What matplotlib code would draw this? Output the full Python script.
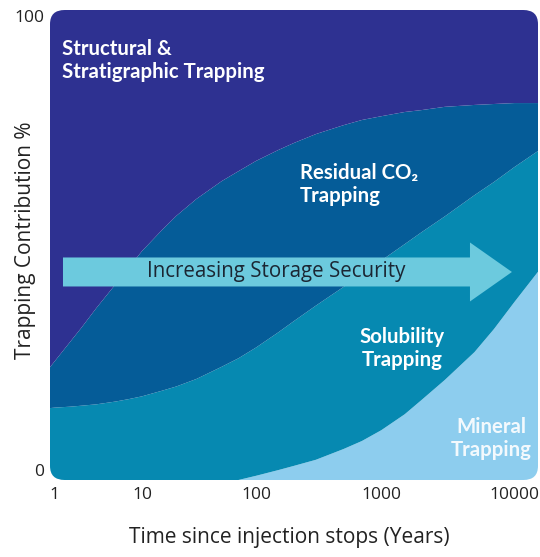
import numpy as np
import matplotlib
matplotlib.use('Agg')
import matplotlib.pyplot as plt
from matplotlib.patches import FancyBboxPatch, FancyArrow

plt.rcParams['font.family'] = ['Open Sans', 'DejaVu Sans']

# Time since injection stops (years) and each mechanism's share (%)
years = [0.88, 1, 1.5, 2, 3, 5, 7, 10, 15, 20, 30, 50, 70, 100, 150, 200, 300, 500,
         700, 1000, 1500, 2000, 3000, 5000, 7000, 10000, 15000]
mineral = [0, 0, 0, 0, 0, 0, 0, 0, 0, 0, 0, 0, 0, 0.9, 2.1, 3.0, 4.3, 6.6,
           8.3, 10.6, 14.0, 17.0, 21.3, 27.2, 32.1, 37.9, 44.3]
solubility = [15.3, 15.4, 15.6, 15.8, 16.1, 16.7, 17.2, 17.8, 19.0, 19.9, 21.5, 24.1, 25.9,
              27.3, 29.3, 30.8, 32.8, 34.5, 35.6, 36.1, 36.2, 35.7, 34.8, 33.4, 31.3, 28.7, 25.7]
residual = [8.7, 9.9, 13.8, 16.5, 20.5, 25.0, 27.9, 30.9, 34.2, 36.3, 38.3, 39.5, 39.8,
            39.7, 38.8, 37.9, 36.5, 34.4, 32.7, 30.7, 28.1, 26.0, 23.3, 19.2, 16.6, 13.6, 10.2]
structural = [76.0, 74.7, 70.6, 67.7, 63.4, 58.3, 54.9, 51.3, 46.8, 43.8, 40.2, 36.4, 34.3,
              32.1, 29.8, 28.3, 26.4, 24.5, 23.4, 22.6, 21.7, 21.3, 20.6, 20.2, 20.0, 19.8, 19.8]

tick_years = [1, 10, 100, 1000, 10000]
tick_labels = ['1', '10', '100', '1000', '10000']

# the time axis in the original is log-like but the decades are not evenly spaced
decade_log = [-3, 0, 1, 2, 3, 4, 6]
decade_pos = [-206, 55, 142, 256, 381, 514, 780]


def fwd(x):
    x = np.clip(np.asarray(x, dtype=float), 1e-3, None)
    return np.interp(np.log10(x), decade_log, decade_pos)


def inv(p):
    return 10 ** np.interp(np.asarray(p, dtype=float), decade_pos, decade_log)


colors = ['#8dcdee', '#0689b1', '#055c98', '#2e3191']

fig = plt.figure(figsize=(5.4, 5.57), dpi=100)
fig.patch.set_facecolor('white')
ax = fig.add_axes([50 / 540, 77 / 557, 488 / 540, 470 / 557])

ax.set_xscale('function', functions=(fwd, inv))
polys = ax.stackplot(years, mineral, solubility, residual, structural,
                     colors=colors, linewidth=0)

# rounded plot area
clip = FancyBboxPatch((0, 0), 1, 1, boxstyle='round,pad=0,rounding_size=0.03',
                      transform=ax.transAxes, facecolor='none', edgecolor='none')
for p in polys:
    p.set_clip_path(clip)

ax.set_xlim(0.88, 15000)
ax.set_ylim(0, 100)
for s in ax.spines.values():
    s.set_visible(False)

ax.set_xticks(tick_years)
ax.set_xticklabels(tick_labels)
ax.minorticks_off()
ax.set_yticks([0, 100])
ax.set_yticklabels(['0', '100'])
ax.tick_params(length=0, labelsize=12.5, colors='#222222')
ax.tick_params(axis='x', pad=5)
ax.tick_params(axis='y', pad=4)
ylab = ax.get_yticklabels()
ylab[0].set_va('bottom')
ylab[1].set_va('top')

ax.set_xlabel('Time since injection stops (Years)', fontsize=15, color='#222222')
ax.xaxis.set_label_coords(0.49, -0.123)
ax.xaxis.label.set_va('center')
ax.set_ylabel('Trapping Contribution %', fontsize=15, color='#222222')
ax.yaxis.set_label_coords(-0.051, 0.511)
ax.yaxis.label.set_va('center')

# arrow across the middle
arrow = FancyArrow(0.0266, 0.4426, 0.92, 0, width=0.0617, head_width=0.1255,
                   head_length=0.086, length_includes_head=True,
                   transform=ax.transAxes, color='#6ccade', linewidth=0)
ax.add_patch(arrow)
ax.text(0.463, 0.4426, 'Increasing Storage Security', transform=ax.transAxes,
        ha='center', va='center', fontsize=14.8, color='#1b2633')

lab = dict(transform=ax.transAxes, color='white', fontweight='bold', fontsize=14.7,
           family=['Lato', 'DejaVu Sans'], linespacing=1.2, va='center')
ax.text(0.0246, 0.8926, 'Structural &\nStratigraphic Trapping', ha='left', **lab)
ax.text(0.512, 0.628, 'Residual CO₂\nTrapping', ha='left', **lab)
ax.text(0.721, 0.280, 'Solubility\nTrapping', ha='center', **lab)
ax.text(0.904, 0.0883, 'Mineral\nTrapping', ha='center', alpha=0.9, **lab)

fig.savefig('out.png', dpi=100)
